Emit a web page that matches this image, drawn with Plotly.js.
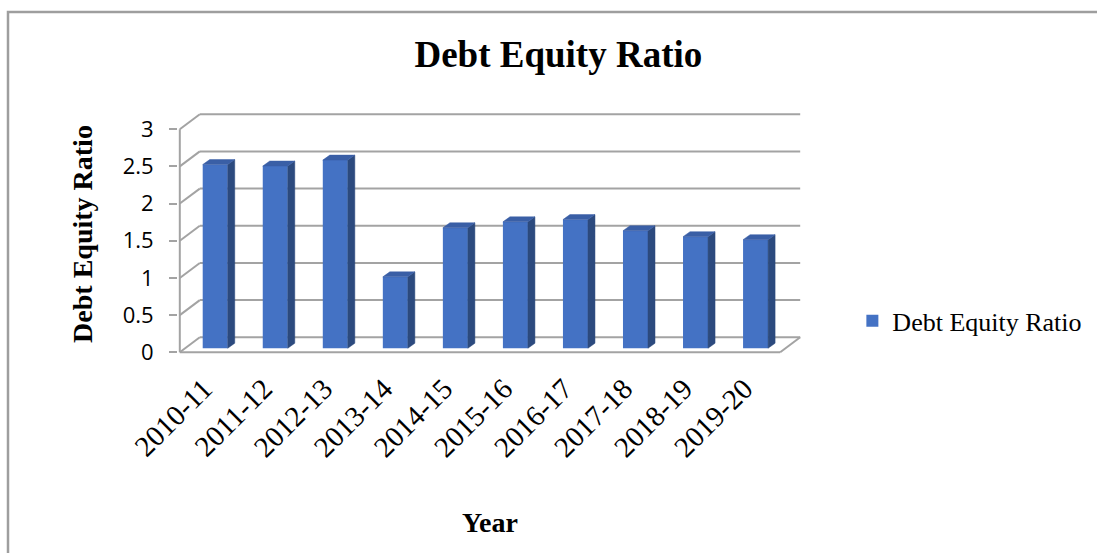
<!DOCTYPE html>
<html>
<head>
<meta charset="utf-8">
<script src="https://cdn.plot.ly/plotly-3.0.1.min.js"></script>
<style>html,body{margin:0;padding:0;background:#fff;}#chart{width:1097px;height:553px;}</style>
</head>
<body>
<div id="chart"></div>
<script>
// ---- data ----
const categories = ['2010-11','2011-12','2012-13','2013-14','2014-15','2015-16','2016-17','2017-18','2018-19','2019-20'];
const ratio = [2.47, 2.45, 2.53, 0.96, 1.62, 1.70, 1.73, 1.58, 1.50, 1.46];
const yTicks = [0, 0.5, 1, 1.5, 2, 2.5, 3];
const yTickLabels = ['0', '0.5', '1', '1.5', '2', '2.5', '3'];
const seriesName = 'Debt Equity Ratio';

// ---- pseudo-3D geometry (in axis units) ----
const DX = 1/3, DY = 0.2016;          // wall depth
const F = 0.27;                       // bar front-face depth fraction
const FX = F*DX, FY = F*DY;
const BW = 0.4167;                    // bar width
const SX = 0.1167, SY = 0.0673;       // bar depth
const n = categories.length;
const xL = -0.5, xR = n - 0.5;
const yTop = yTicks[yTicks.length-1];
const idx = categories.map((c,i)=>i);

// side faces & top caps
const sideX=[], sideY=[], capX=[], capY=[];
ratio.forEach((v,i)=>{
  const xl = i+FX-BW/2, xr = i+FX+BW/2, yb = FY, yt = FY+v;
  sideX.push(xr, xr+SX, xr+SX, xr, xr, null);
  sideY.push(yb, yb+SY, yt+SY, yt, yb, null);
  capX.push(xl, xl+SX, xr+SX, xr, xl, null);
  capY.push(yt, yt+SY, yt+SY, yt, yt, null);
});

const W = 1097, H = 553;
const M = {l:178, r:295, t:112, b:197};
const pw = W - M.l - M.r, ph = H - M.t - M.b;
const px = p => (p - M.l) / pw;          // pixel -> paper x
const py = p => (H - M.b - p) / ph;      // pixel -> paper y

const gridColor = '#A3A3A3';
const shapes = [];
yTicks.forEach(t=>{
  shapes.push({type:'line', layer:'below', xref:'x', yref:'y', x0:xL+DX, x1:xR+DX, y0:t+DY, y1:t+DY, line:{color:gridColor, width:2}});
  shapes.push({type:'line', layer:'below', xref:'x', yref:'y', x0:xL, x1:xL+DX, y0:t, y1:t+DY, line:{color:gridColor, width:2}});
});
shapes.push({type:'line', layer:'below', xref:'x', yref:'y', x0:xL, x1:xR, y0:0, y1:0, line:{color:gridColor, width:2}});
shapes.push({type:'line', layer:'below', xref:'x', yref:'y', x0:xR, x1:xR+DX, y0:0, y1:DY, line:{color:gridColor, width:2}});
shapes.push({type:'line', layer:'below', xref:'x', yref:'y', x0:xL, x1:xL, y0:0, y1:yTop, line:{color:gridColor, width:2}});
// outer chart border (left and top)
shapes.push({type:'path', xref:'paper', yref:'paper',
  path:`M ${px(8)},${py(H+5)} L ${px(8)},${py(12)} L ${px(W+5)},${py(12)}`,
  line:{color:'#9E9E9E', width:2.5}});

const traces = [
  {type:'bar', name:seriesName, x:idx.map(i=>i+FX), y:ratio, base:FY, width:BW,
   marker:{color:'#4472C4', line:{width:0}}, hoverinfo:'y'},
  {type:'scatter', mode:'lines', x:sideX, y:sideY, fill:'toself', fillcolor:'#2C4A7E',
   line:{color:'#2C4A7E', width:0.5}, showlegend:false, hoverinfo:'skip'},
  {type:'scatter', mode:'lines', x:capX, y:capY, fill:'toself', fillcolor:'#3A5FA6',
   line:{color:'#3A5FA6', width:0.5}, showlegend:false, hoverinfo:'skip'}
];

const layout = {
  width:W, height:H,
  margin:M,
  paper_bgcolor:'#fff', plot_bgcolor:'rgba(0,0,0,0)',
  showlegend:true,
  title:{text:'<b>Debt Equity Ratio</b>', font:{family:'Liberation Serif', size:37, color:'#000'},
         xref:'container', x:0.509, xanchor:'center', yref:'container', y:0.903, yanchor:'middle'},
  xaxis:{range:[xL-0.03, xR+DX+0.03], tickvals:idx, ticktext:categories, tickangle:-45,
         tickfont:{family:'Liberation Serif', size:29, color:'#000'}, ticks:'', showgrid:false,
         zeroline:false, showline:false, ticklabelstandoff:9, ticklabelshift:-6, fixedrange:true,
         title:{text:'<b>Year</b>', font:{family:'Liberation Serif', size:28, color:'#000'}, standoff:50}},
  yaxis:{range:[-0.05, yTop+DY+0.03], tickvals:yTicks, ticktext:yTickLabels, ticks:'outside', ticklen:8,
         tickwidth:2, tickcolor:gridColor, tickfont:{family:'Open Sans', size:22, color:'#000'},
         showgrid:false, zeroline:false, showline:false, ticklabelstandoff:11, fixedrange:true,
         title:{text:'<b>Debt Equity Ratio</b>', font:{family:'Liberation Serif', size:28, color:'#000'}, standoff:21}},
  legend:{xref:'container', yref:'container', x:0.777, y:0.42, xanchor:'left', yanchor:'middle',
          font:{family:'Liberation Serif', size:26, color:'#000'}, bgcolor:'rgba(0,0,0,0)'},
  shapes:shapes
};

Plotly.newPlot('chart', traces, layout, {displayModeBar:false, staticPlot:true});
</script>
</body>
</html>
